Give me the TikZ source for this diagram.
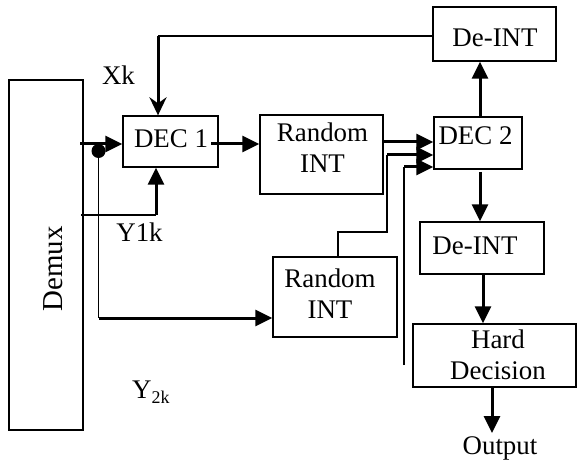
\documentclass[tikz,border=0pt]{standalone}
\usepackage{fontspec}
\setmainfont{Liberation Serif}
\usetikzlibrary{arrows.meta}
\begin{document}
\begin{tikzpicture}[x=1bp,y=-1bp,
  box/.style={draw, line width=1.3bp, inner sep=0pt},
  lbl/.style={inner sep=0pt, align=center, font=\fontsize{27}{31}\selectfont},
  thinline/.style={line width=1.3bp},
  thickline/.style={line width=3bp},
  arr/.style={thickline, -{Triangle[length=17bp,width=16bp]}},
  xkarr/.style={thickline, -{Stealth[length=18bp,width=17bp,inset=6bp]}}]
\useasboundingbox (0,0) rectangle (577,463);

% boxes
\node[box, minimum width=74bp, minimum height=350bp] (demux) at (46,255) {};
\node[box, minimum width=95bp, minimum height=51bp] (dec1) at (170.5,141.5) {};
\node[box, minimum width=123bp, minimum height=79bp] (r1) at (321.5,154.5) {};
\node[box, minimum width=88bp, minimum height=52bp] (dec2) at (478,143) {};
\node[box, minimum width=123bp, minimum height=54bp] (d1) at (494.5,34) {};
\node[box, minimum width=124bp, minimum height=52bp] (d2) at (482,248) {};
\node[box, minimum width=163bp, minimum height=63bp] (hd) at (494.5,355.5) {};
\node[box, minimum width=124bp, minimum height=80bp] (r2) at (335,297) {};

% texts
\node[lbl, font=\fontsize{29}{31}\selectfont, rotate=90, anchor=base] (demuxt) at (62,269) {Demux};
\node[lbl, anchor=base] (dec1t) at (171,148) {DEC 1};
\node[lbl] (r1t) at (322.5,147.8) {Random\\INT};
\node[lbl, anchor=base] (dec2t) at (475.5,145) {DEC 2};
\node[lbl, anchor=base] (d1t) at (495,47) {De-INT};
\node[lbl, anchor=base] (d2t) at (475,255) {De-INT};
\node[lbl] (hdt) at (498,354.8) {Hard\\Decision};
\node[lbl] (r2t) at (330,293.8) {Random\\INT};
\node[lbl, anchor=base] (outt) at (500,454) {Output};
\node[lbl, anchor=base] (xk) at (118.5,85) {Xk};
\node[lbl, anchor=base] (y1k) at (139.5,242) {Y1k};
\node[lbl, anchor=base west] (y2k) at (132,398) {Y\raisebox{-5bp}{\fontsize{18}{18}\selectfont 2k}};

% feedback from top De-INT to DEC 1
\coordinate (fb) at (158,36);
\draw[thinline] (d1.west |- fb) -- (fb);
\draw[xkarr] (fb) -- (fb |- dec1.north);

% Demux to DEC 1
\coordinate (a0) at (80,144);
\draw[arr] (a0) -- (a0 -| dec1.west);
\fill (98.5,151) circle (7);

% branch to lower Random INT
\coordinate (b1) at (98.5,151);
\coordinate (b2) at (98.5,318);
\draw[thinline] (b1) -- (b2);
\draw[arr] (b2) -- (b2 -| r2.west);

% Y1k into DEC 1
\coordinate (y0) at (81,215);
\coordinate (y1) at (156,215);
\draw[thinline] (y0) -- (y1);
\draw[arr] (y1) -- (y1 |- dec1.south);

% DEC 1 to Random INT
\coordinate (c0) at (211,144);
\draw[arr] (c0) -- (c0 -| r1.west);

% Random INT to DEC 2
\coordinate (e0) at (384,142);
\draw[arr] (e0) -- (e0 -| dec2.west);

% lower Random INT to DEC 2
\coordinate (f0) at (338,0);
\coordinate (f1) at (338,232);
\coordinate (f2) at (387,232);
\coordinate (f3) at (387,155);
\draw[thinline] (r2.north -| f0) -- (f1) -- (f2) -- (f3);
\draw[arr] (f3) -- (f3 -| dec2.west);

% third input of DEC 2
\coordinate (g0) at (404,365);
\coordinate (g1) at (404,167);
\draw[thinline] (g0) -- (g1);
\draw[arr] (g1) -- (g1 -| dec2.west);

% DEC 2 to De-INTs
\coordinate (h) at (480,0);
\draw[arr] (dec2.north -| h) -- (d1.south -| h);
\coordinate (h2) at (480,172);
\draw[arr] (h2) -- (d2.north -| h);

% De-INT to Hard Decision
\coordinate (k) at (483,0);
\draw[arr] (d2.south -| k) -- (hd.north -| k);

% Hard Decision to Output
\coordinate (m) at (492,433);
\draw[arr] (hd.south -| m) -- (m);
\end{tikzpicture}
\end{document}
